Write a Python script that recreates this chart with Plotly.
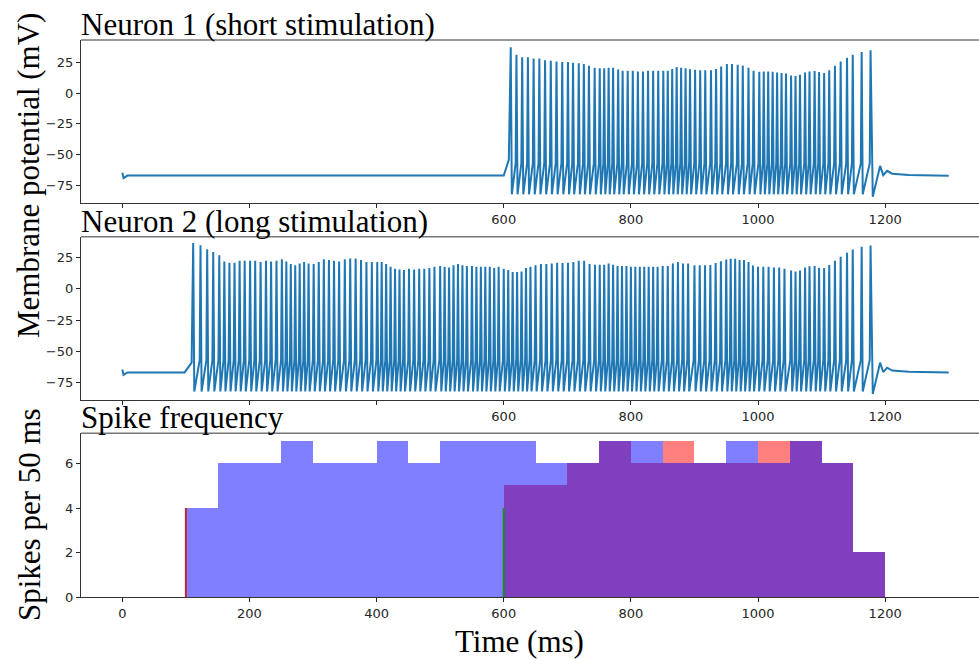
import plotly.graph_objects as go

# ---------------- data ----------------
# Neuron 1 (short stimulation): spike times (ms) and peak voltages (mV)
n1_spike_t = [611, 620, 629, 638, 647,
              656, 665, 674, 683, 692,
              701, 709, 718, 726, 734, 743,
              751, 758, 765, 772, 780, 787, 795,
              803, 811, 819, 827, 835, 843,
              851, 858, 865, 872, 879, 886, 893,
              901, 909, 917, 926, 934, 942,
              951, 959, 968, 976, 985, 993,
              1002, 1009, 1016, 1023, 1030, 1037, 1044,
              1052, 1059, 1066, 1074, 1081, 1089, 1096,
              1104, 1112, 1121, 1130, 1140, 1149,
              1163, 1177]
n1_peak_v = [37, 31, 29, 29, 28,
             28, 26.5, 26, 25.5, 25,
             25, 24.5, 24, 23.5, 22, 20.5,
             20, 20, 20.5, 20.5, 19, 18, 18,
             18, 17.5, 17.5, 18, 18, 18,
             18, 18, 19.5, 21, 20.5, 20, 19.3,
             18.8, 18.5, 18.5, 18.5, 19.5, 21.5,
             23.5, 23.5, 22.8, 22.2, 20.5, 18,
             17.2, 17.4, 17.4, 17.2, 16.5, 16.2, 15.8,
             14.2, 13.8, 14.8, 16.5, 17.4, 17.8, 17,
             16.2, 18.5, 22, 25.5, 28.5, 31,
             33.2, 34.5]

# Neuron 2 (long stimulation)
n2_spike_t = [111.5, 123, 133.5, 143,
              152.5, 160.5, 168.5, 176.5, 184.5, 192.5,
              201, 209, 217.5, 226, 234, 242.5,
              251, 258, 265, 272, 279, 286, 293,
              301, 309, 317, 325, 333, 341,
              350, 358.5, 367, 375.5, 384, 392.5,
              401, 408, 415, 422, 429, 436, 443,
              451, 459, 467, 475, 483, 491,
              500, 507, 514, 521, 528, 535, 542,
              550, 557, 564, 571, 578, 585, 592,
              600, 607, 614, 621, 628, 635, 642,
              650, 658.5, 667, 675.5, 684, 692.5,
              701, 709.5, 718, 726.5, 735, 743.5,
              751, 758, 765, 772, 779, 786, 793,
              800, 807, 814, 821, 828, 835, 842,
              850, 858, 866, 874, 882, 890,
              900, 908.3, 916.6, 925, 933.3, 941.6,
              950, 957, 964, 971, 978, 985, 992,
              1000, 1008.3, 1016.6, 1025, 1033.3, 1041.6,
              1052, 1059, 1066, 1074, 1081, 1089, 1096,
              1104, 1112, 1121, 1130, 1140, 1149,
              1163, 1177]
n2_peak_v = [36.5, 34.6, 31.4, 29.3,
             26.6, 21.8, 20.7, 20.7, 22.3, 22.3,
             22.3, 22.3, 21.4, 22.3, 21.8, 22.3,
             23.4, 21.8, 19.7, 18.7, 20.2, 21.4, 20.2,
             19.7, 21.4, 23.4, 22.9, 22.3, 21.8,
             23.4, 24, 24, 22.9, 21.4, 21.4,
             21.4, 21.4, 19.7, 17.6, 16, 15.4, 14.9,
             16, 15.4, 16, 16, 16.5, 17.6,
             18.1, 17.6, 17, 18.7, 19.7, 18.7, 18.1,
             18.1, 17.6, 17.6, 17.6, 17.6, 16.5, 17.6,
             16, 14.9, 13.3, 13.3, 13.8, 16.5, 17.6,
             18.7, 19.7, 19.7, 20.2, 20.7, 20.5,
             20.7, 21.3, 22.3, 22.3, 19.7, 19.2,
             19.2, 19.2, 20.2, 19.2, 18.1, 18.1, 18.1,
             17.6, 17.6, 17.6, 17.6, 17.6, 17.6, 17.6,
             18.1, 18.1, 20.2, 21.3, 20.2, 20.2,
             18.7, 18.7, 18.7, 19, 20.5, 22,
             23.2, 23.9, 23.9, 22.9, 22.9, 21.3, 18.5,
             17.6, 17.6, 17.6, 17, 17, 16,
             14.5, 13.8, 14.5, 17, 18, 18.1, 16.8,
             16.5, 19, 22.3, 25.5, 28.7, 31.3,
             33.4, 34.4]

trough_v = -82.0        # after-hyperpolarisation minimum (mV)
threshold_v = -57.0     # voltage at spike upstroke (mV)

# start transient (t ms, V mV)
start_t = [0, 2, 8]
start_v = [-64.5, -68.8, -66.8]
# stimulation onsets: time of start of depolarisation, and pre-spike voltage
n1_onset_t, n1_onset_v = [600, 608], [-66.8, -54]
n2_onset_t, n2_onset_v = [98, 109], [-66.8, -59]
# tail after last spike (offset from last spike, V)
tail_dt = [3.5, 15, 20, 26, 34, 60, 123]
tail_v = [-84, -59, -66.5, -63, -65.3, -66.3, -66.9]

# Spike histograms (50 ms bins)
bin_width = 50
n1_bins = [600, 650, 700, 750, 800, 850, 900, 950, 1000, 1050, 1100, 1150]
n1_counts = [5, 5, 6, 7, 6, 7, 6, 6, 7, 7, 6, 2]
n2_bins = [100, 150, 200, 250, 300, 350, 400, 450, 500, 550, 600, 650,
           700, 750, 800, 850, 900, 950, 1000, 1050, 1100, 1150]
n2_counts = [4, 6, 6, 7, 6, 6, 7, 6, 7, 7, 7, 6,
             6, 7, 7, 6, 6, 7, 6, 7, 6, 2]
stim_marks_t = [100, 600]
stim_marks_h = [4, 4]
stim_marks_c = ["#c0282d", "#1e8a1e"]

x_ticks = [0, 200, 400, 600, 800, 1000, 1200]


def build_trace(spk_t, spk_v, onset_t, onset_v):
    xs = list(start_t)
    ys = list(start_v)
    xs += onset_t
    ys += onset_v
    n = len(spk_t)
    for i in range(n):
        if i > 0:
            xs.append(spk_t[i] - 1.3)
            ys.append(threshold_v)
        xs.append(spk_t[i])
        ys.append(spk_v[i])
        if i < n - 1:
            xs.append(spk_t[i] + 1.7)
            ys.append(trough_v)
    for dt, v in zip(tail_dt, tail_v):
        xs.append(spk_t[-1] + dt)
        ys.append(v)
    return xs, ys


x1, y1 = build_trace(n1_spike_t, n1_peak_v, n1_onset_t, n1_onset_v)
x2, y2 = build_trace(n2_spike_t, n2_peak_v, n2_onset_t, n2_onset_v)

# ---------------- layout geometry ----------------
W, H = 979, 659
LEFT = 81
panels_px = [(40, 203), (236.7, 400), (433.3, 597.3)]


def dom(top, bot):
    return [1 - bot / H, 1 - top / H]


def px_x(px):
    return px / W


def px_y(py):
    return 1 - py / H


BLUE = "#1f77b4"
TICKFONT = dict(family="DejaVu Sans", size=13, color="#262626")
SERIF = "Liberation Serif, Times New Roman, serif"

fig = go.Figure()
fig.add_trace(go.Scatter(x=x1, y=y1, mode="lines", line=dict(color=BLUE, width=2),
                         xaxis="x", yaxis="y", showlegend=False, hoverinfo="skip"))
fig.add_trace(go.Scatter(x=x2, y=y2, mode="lines", line=dict(color=BLUE, width=2),
                         xaxis="x2", yaxis="y2", showlegend=False, hoverinfo="skip"))
fig.add_trace(go.Bar(x=n1_bins, y=n1_counts, width=bin_width, offset=0,
                     marker=dict(color="rgba(255,0,0,0.5)", line=dict(width=0)),
                     xaxis="x3", yaxis="y3", showlegend=False))
fig.add_trace(go.Bar(x=n2_bins, y=n2_counts, width=bin_width, offset=0,
                     marker=dict(color="rgba(0,0,255,0.5)", line=dict(width=0)),
                     xaxis="x3", yaxis="y3", showlegend=False))
for t, h, c in zip(stim_marks_t, stim_marks_h, stim_marks_c):
    fig.add_trace(go.Scatter(x=[t, t], y=[0, h], mode="lines", line=dict(color=c, width=2),
                             xaxis="x3", yaxis="y3", showlegend=False, hoverinfo="skip"))

xrange = [-65, 1347.6]
xdom = [LEFT / W, 1]
common_x = dict(range=xrange, tickvals=x_ticks, ticks="outside", ticklen=4, tickwidth=1,
                tickcolor="#262626", showline=True, linecolor="#333", linewidth=1.3,
                showgrid=False, zeroline=False, tickfont=TICKFONT, domain=xdom)
common_y = dict(ticks="outside", ticklen=4, tickwidth=1, tickcolor="#262626",
                showline=True, linecolor="#333", linewidth=1.3, showgrid=False,
                zeroline=False, tickfont=TICKFONT)

hidden_txt = ["", "", "", "600", "800", "1000", "1200"]
fig.update_layout(
    width=W, height=H, margin=dict(l=0, r=0, t=0, b=0, autoexpand=False),
    paper_bgcolor="white", plot_bgcolor="white", barmode="overlay", bargap=0,
    xaxis=dict(common_x, anchor="y", ticktext=hidden_txt),
    xaxis2=dict(common_x, anchor="y2", ticktext=hidden_txt),
    xaxis3=dict(common_x, anchor="y3", ticktext=[str(v) for v in x_ticks]),
    yaxis=dict(common_y, domain=dom(*panels_px[0]), range=[-89.0, 42.9],
               tickvals=[-75, -50, -25, 0, 25], anchor="x"),
    yaxis2=dict(common_y, domain=dom(*panels_px[1]), range=[-88.8, 41.5],
                tickvals=[-75, -50, -25, 0, 25], anchor="x2"),
    yaxis3=dict(common_y, domain=dom(*panels_px[2]), range=[0, 7.35],
                tickvals=[0, 2, 4, 6], anchor="x3"),
)

# top spines
for top, bot in panels_px:
    fig.add_shape(type="line", xref="paper", yref="paper", x0=px_x(LEFT), x1=1,
                  y0=px_y(top), y1=px_y(top), line=dict(color="#777", width=1.5),
                  layer="above")

titles = ["Neuron 1 (short stimulation)", "Neuron 2 (long stimulation)", "Spike frequency"]
for (top, bot), ttl in zip(panels_px, titles):
    fig.add_annotation(text=ttl, xref="paper", yref="paper", x=px_x(LEFT - 2), y=px_y(top),
                       xanchor="left", yanchor="bottom", yshift=-4,
                       showarrow=False, font=dict(family=SERIF, size=31, color="black"))

fig.add_annotation(text="Membrane potential (mV)", xref="paper", yref="paper",
                   x=px_x(29), y=px_y(176), textangle=-90,
                   xanchor="center", yanchor="middle", showarrow=False,
                   font=dict(family=SERIF, size=31, color="black"))
fig.add_annotation(text="Spikes per 50 ms", xref="paper", yref="paper",
                   x=px_x(29), y=px_y(515), textangle=-90,
                   xanchor="center", yanchor="middle", showarrow=False,
                   font=dict(family=SERIF, size=31, color="black"))
fig.add_annotation(text="Time (ms)", xref="paper", yref="paper",
                   x=px_x(519), y=0, yshift=-2,
                   xanchor="center", yanchor="bottom", showarrow=False,
                   font=dict(family=SERIF, size=31, color="black"))

fig.write_html("out.html",
               config={"displayModeBar": False},
               post_script="document.body.style.margin='0';"
                           "document.body.style.overflow='hidden';")
